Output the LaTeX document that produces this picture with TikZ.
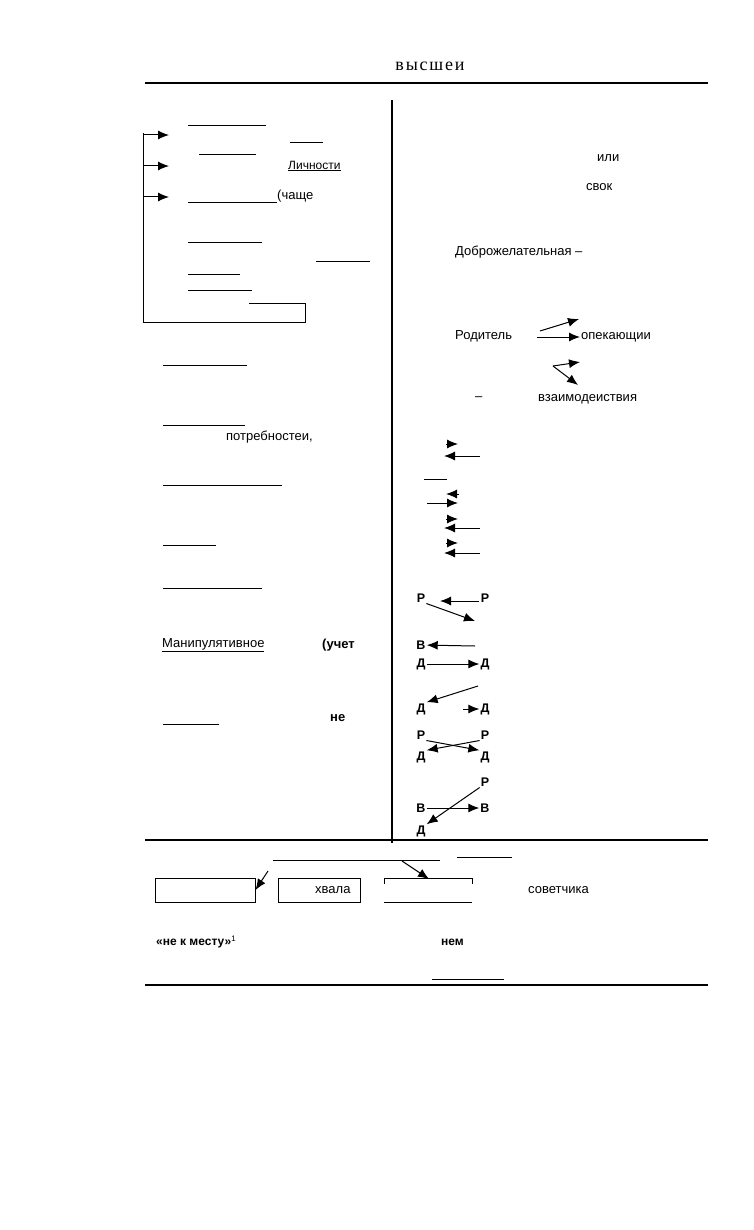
\documentclass[tikz,border=0pt]{standalone}
\usepackage{fontspec}
\setmainfont{Liberation Sans}
\newfontfamily\titlefont[LetterSpace=10]{Liberation Serif}
\usetikzlibrary{arrows.meta}
\begin{document}
\begin{tikzpicture}[x=1pt,y=-1pt,
  txt/.style={inner sep=0pt, anchor=west, font=\fontsize{13}{15}\selectfont},
  btxt/.style={inner sep=0pt, anchor=west, font=\fontsize{13}{15}\selectfont\bfseries},
  let/.style={inner sep=1pt, font=\fontsize{12.5}{14}\selectfont\bfseries},
  rule/.style={line width=1pt},
  heavy/.style={line width=1.7pt},
  arr/.style={line width=1pt, -{Latex[length=11pt,width=9pt]}},
  boxx/.style={draw, line width=1pt, minimum width=100pt, minimum height=24pt, inner sep=0pt}
]
\useasboundingbox (0,0) rectangle (754,1230);
% title and frame rules
\node[inner sep=0pt, font=\titlefont\fontsize{18}{20}\selectfont] (title) at (430,66) {высшеи};
\draw[heavy] (145,83) -- (708,83);
\draw[heavy] (392,100) -- (392,843);
\draw[line width=1.4pt] (145,840) -- (708,840);
\draw[line width=1.2pt] (145,985) -- (708,985);
% left bracket
\coordinate (b0) at (143,133);
\coordinate (b1) at (143,322);
\coordinate (b2) at (305,322);
\coordinate (b3) at (305,303);
\coordinate (b4) at (249,303);
\draw[rule] (b0) -- (b1) -- (b2) -- (b3) -- (b4);
\coordinate (a1s) at (143,135); \coordinate (a1e) at (169,135);
\coordinate (a2s) at (143,166); \coordinate (a2e) at (169,166);
\coordinate (a3s) at (143,197); \coordinate (a3e) at (169,197);
\draw[arr] (a1s) -- (a1e);
\draw[arr] (a2s) -- (a2e);
\draw[arr] (a3s) -- (a3e);
% left column blanks and texts
\draw[rule] (188,126) -- (266,126);
\draw[rule] (290,143) -- (323,143);
\draw[rule] (199,155) -- (256,155);
\node[txt, font=\fontsize{12}{14}\selectfont] (lichn) at (288,166) {\underline{Личности}};
\draw[rule] (188,203) -- (277,203);
\node[txt] (chashe) at (277,196) {(чаще};
\draw[rule] (188,243) -- (262,243);
\draw[rule] (316,262) -- (370,262);
\draw[rule] (188,275) -- (240,275);
\draw[rule] (188,291) -- (252,291);
\draw[rule] (163,365) -- (247,365);
\draw[rule] (163,425) -- (245,425);
\node[txt] (potr) at (226,437) {потребностеи,};
\draw[rule] (163,485) -- (282,485);
\draw[rule] (163,545) -- (216,545);
\draw[rule] (163,588) -- (262,588);
\node[txt] (manip) at (162,645) {\underline{Манипулятивное}};
\node[btxt] (uchet) at (322,645) {(учет};
\draw[rule] (163,724) -- (219,724);
\node[btxt] (ne) at (330,718) {не};
% right column texts
\node[txt] (ili) at (597,158) {или};
\node[txt] (svok) at (586,187) {свок};
\node[txt] (dobr) at (455,252) {Доброжелательная –};
\node[txt] (rod) at (455,336) {Родитель};
\node[txt] (opek) at (581,337) {опекающии};
\coordinate (z1s) at (540,331); \coordinate (z1e) at (579,319);
\coordinate (z2s) at (537,337); \coordinate (z2e) at (580,337);
\draw[arr] (z1s) -- (z1e);
\draw[arr] (z2s) -- (z2e);
\coordinate (v0) at (553,366);
\coordinate (v1) at (580,362);
\coordinate (v2) at (578,385);
\draw[arr] (v0) -- (v1);
\draw[arr] (v0) -- (v2);
\node[txt] (dash) at (475,399) {–};
\node[txt] (vzaim) at (538,399) {взаимодеиствия};
% arrow cluster
\coordinate (h1s) at (446,444); \coordinate (h1e) at (458,444);
\coordinate (l1s) at (480,456); \coordinate (l1e) at (444,456);
\draw[arr] (h1s) -- (h1e);
\draw[arr] (l1s) -- (l1e);
\draw[rule] (424,479) -- (447,479);
\coordinate (h2s) at (459,494); \coordinate (h2e) at (446,494);
\coordinate (r2s) at (427,503); \coordinate (r2e) at (458,503);
\draw[arr] (h2s) -- (h2e);
\draw[arr] (r2s) -- (r2e);
\coordinate (h3s) at (446,519); \coordinate (h3e) at (458,519);
\coordinate (l3s) at (480,528); \coordinate (l3e) at (444,528);
\draw[arr] (h3s) -- (h3e);
\draw[arr] (l3s) -- (l3e);
\coordinate (h4s) at (446,543); \coordinate (h4e) at (458,543);
\coordinate (l4s) at (480,553); \coordinate (l4e) at (444,553);
\draw[arr] (h4s) -- (h4e);
\draw[arr] (l4s) -- (l4e);
% P / D / B letters
\node[let] (p1) at (421,598) {Р};
\node[let] (p2) at (485,598) {Р};
\coordinate (p2l) at (479,601); \coordinate (p2t) at (440,601);
\draw[arr] (p2l) -- (p2t);
\coordinate (p1t) at (475,621);
\draw[arr] (p1.south east) -- (p1t);
\node[let] (v1n) at (421,645) {В};
\coordinate (v1s) at (475,646);
\draw[arr] (v1s) -- (v1n);
\node[let] (d1) at (421,664) {Д};
\node[let] (d2) at (485,664) {Д};
\draw[arr] (d1) -- (d2);
\coordinate (dg1) at (478,686);
\node[let] (d3) at (421,709) {Д};
\node[let] (d4) at (485,709) {Д};
\draw[arr] (dg1) -- (d3.north east);
\coordinate (h5s) at (463,709);
\draw[arr] (h5s) -- (d4);
\node[let] (p3) at (421,735) {Р};
\node[let] (p4) at (485,735) {Р};
\node[let] (d5) at (421,757) {Д};
\node[let] (d6) at (485,757) {Д};
\draw[arr] (p3.south east) -- (d6.north west);
\draw[arr] (p4.south west) -- (d5.north east);
\node[let] (p5) at (485,782) {Р};
\node[let] (b2n) at (421,808) {В};
\node[let] (b3n) at (485,808) {В};
\node[let] (d7) at (421,831) {Д};
\draw[arr] (b2n) -- (b3n);
\draw[arr] (p5.south west) -- (d7.north east);
% bottom part
\draw[rule] (273,860) -- (440,860);
\draw[rule] (457,857) -- (512,857);
\node[boxx] (box1) at (205,890) {};
\node[boxx, minimum width=82pt] (box2) at (319,890) {};
\node[txt] (hvala) at (315,890) {хвала};
\coordinate (bx3a) at (384,884);
\coordinate (bx3b) at (384,878);
\coordinate (bx3c) at (472,878);
\coordinate (bx3d) at (472,884);
\draw[line width=1pt] (bx3a) -- (bx3b) -- (bx3c) -- (bx3d);
\draw[line width=1pt] (384,902) -- (472,902);
\coordinate (ar1) at (268,871);
\draw[arr] (ar1) -- (box1.east);
\coordinate (ar2) at (402,861); \coordinate (ar2e) at (429,879);
\draw[arr] (ar2) -- (ar2e);
\node[txt] (sovet) at (528,890) {советчика};
\node[btxt, font=\fontsize{12}{14}\selectfont\bfseries] (nekm) at (156,942) {«не к месту»\textsuperscript{\mdseries 1}};
\node[btxt, font=\fontsize{12}{14}\selectfont\bfseries] (nem) at (441,942) {нем};
\draw[rule] (432,979) -- (504,979);
\end{tikzpicture}
\end{document}
